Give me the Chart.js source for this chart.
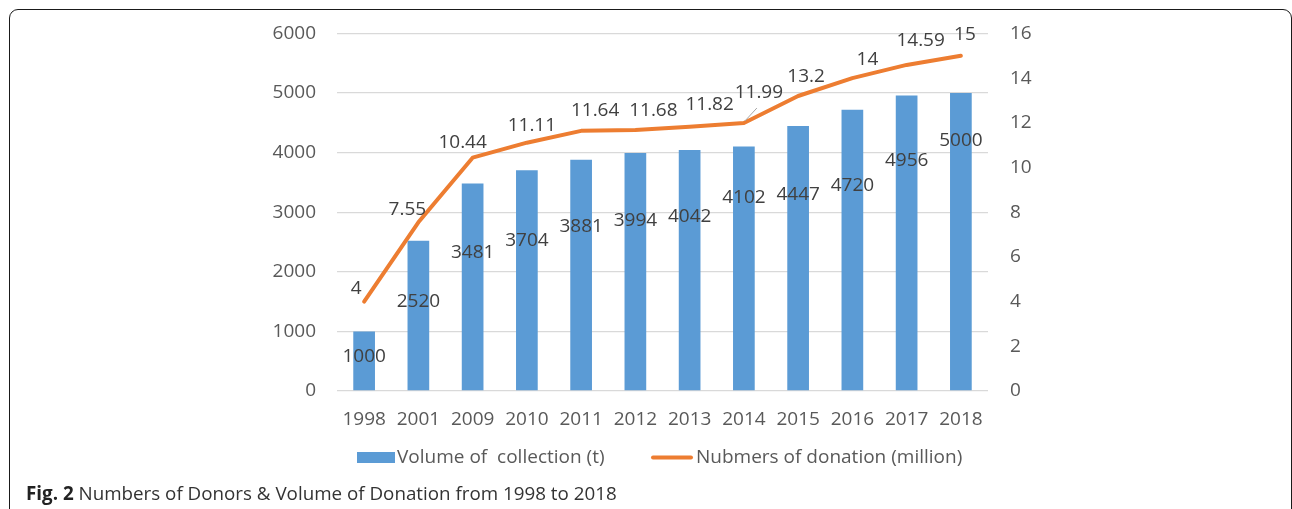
<!DOCTYPE html>
<html>
<head>
<meta charset="utf-8">
<script src="https://cdn.jsdelivr.net/npm/chart.js@4/dist/chart.umd.min.js"></script>
<style>
  html, body { margin: 0; padding: 0; background: #fff; }
  #wrap { position: relative; width: 1292px; height: 509px; overflow: hidden; }
  #frame { position: absolute; left: 9px; top: 9px; width: 1283px; height: 560px;
           border: 1.5px solid #1a1a1a; border-radius: 9px; box-sizing: border-box; }
  #cv { position: absolute; left: 0; top: 0; }
  #caption { position: absolute; left: 26px; top: 480px; font-family: "Open Sans", sans-serif;
             font-size: 18.8px; color: #333; white-space: nowrap; }
  #caption b { font-weight: 700; color: #222; }
</style>
</head>
<body>
<div id="wrap">
  <div id="frame"></div>
  <canvas id="cv" width="1292" height="509"></canvas>
  <div id="caption"><b>Fig. 2</b> Numbers of Donors &amp; Volume of Donation from 1998 to 2018</div>
</div>
<script>
const categories = ['1998','2001','2009','2010','2011','2012','2013','2014','2015','2016','2017','2018'];
const volumeCollection = [1000,2520,3481,3704,3881,3994,4042,4102,4447,4720,4956,5000];
const donationNumbers = [4,7.55,10.44,11.11,11.64,11.68,11.82,11.99,13.2,14,14.59,15];
const seriesNames = ['Volume of  collection (t)', 'Nubmers of donation (million)'];

// label placement (layout only)
const barLabelDy = [25,61,69,70,67,68,66,51,69,76,65,48];
const lineLabelDx = [-8,-11,-10,5,14,18,20,15,8,15,14,4];
const lineLabelDy = [-13,-13,-15,-17,-20,-19,-22,-30,-19,-19,-24,-21];

const FONT = '"Open Sans", sans-serif';
const BLUE = '#5B9BD5';
const ORANGE = '#ED7D31';

const labelPlugin = {
  id: 'labels',
  afterDatasetsDraw(chart) {
    const ctx = chart.ctx;
    ctx.save();
    ctx.font = '19px ' + FONT;
    ctx.fillStyle = '#404040';
    ctx.textAlign = 'center';
    ctx.textBaseline = 'middle';
    const barMeta = chart.getDatasetMeta(0);
    barMeta.data.forEach((el, i) => {
      ctx.fillText(String(chart.data.datasets[0].data[i]), el.x, el.y + barLabelDy[i]);
    });
    const lineMeta = chart.getDatasetMeta(1);
    lineMeta.data.forEach((el, i) => {
      const lx = el.x + lineLabelDx[i], ly = el.y + lineLabelDy[i];
      if (i === 7) {
        ctx.save();
        ctx.strokeStyle = '#A6A6A6';
        ctx.lineWidth = 1;
        ctx.beginPath();
        ctx.moveTo(el.x + 1, el.y - 2);
        ctx.lineTo(el.x + 13, el.y - 15);
        ctx.stroke();
        ctx.restore();
      }
      ctx.fillText(String(chart.data.datasets[1].data[i]), lx, ly);
    });
    ctx.restore();
  },
  afterDraw(chart) {
    const ctx = chart.ctx;
    ctx.save();
    ctx.font = '19px ' + FONT;
    ctx.textBaseline = 'middle';
    ctx.textAlign = 'left';
    const ly = 457.5;
    ctx.fillStyle = BLUE;
    ctx.fillRect(357, 452, 38, 11);
    ctx.fillStyle = '#595959';
    ctx.fillText(chart.data.datasets[0].label, 397, ly);
    ctx.strokeStyle = ORANGE;
    ctx.lineWidth = 4;
    ctx.lineCap = 'round';
    ctx.beginPath();
    ctx.moveTo(653, ly);
    ctx.lineTo(691, ly);
    ctx.stroke();
    ctx.fillText(chart.data.datasets[1].label, 696, ly);
    ctx.restore();
  }
};

new Chart(document.getElementById('cv'), {
  type: 'bar',
  data: {
    labels: categories,
    datasets: [
      {
        type: 'bar',
        label: seriesNames[0],
        data: volumeCollection,
        backgroundColor: BLUE,
        borderWidth: 0,
        barPercentage: 0.4,
        categoryPercentage: 1,
        yAxisID: 'y',
        order: 2
      },
      {
        type: 'line',
        label: seriesNames[1],
        data: donationNumbers,
        borderColor: ORANGE,
        backgroundColor: ORANGE,
        borderWidth: 4,
        borderCapStyle: 'round',
        borderJoinStyle: 'round',
        pointRadius: 0,
        tension: 0,
        yAxisID: 'y1',
        order: 1
      }
    ]
  },
  options: {
    responsive: false,
    animation: false,
    devicePixelRatio: 1,
    layout: { padding: { top: 33, left: 0, right: 0, bottom: 0 } },
    plugins: {
      legend: { display: false },
      tooltip: { enabled: false }
    },
    scales: {
      x: {
        offset: true,
        grid: { display: false, drawTicks: false },
        border: { display: false },
        ticks: { color: '#595959', font: { family: FONT, size: 19 }, padding: 17, maxRotation: 0, autoSkip: false },
        afterFit(scale) { scale.height = 118; }
      },
      y: {
        position: 'left',
        min: 0, max: 6000,
        ticks: { stepSize: 1000, color: '#595959', font: { family: FONT, size: 19 }, padding: 21,
                 callback: (v) => String(v) },
        grid: { color: '#D9D9D9', lineWidth: 1.3, drawTicks: false },
        border: { display: false },
        afterFit(scale) { scale.width = 337; }
      },
      y1: {
        position: 'right',
        min: 0, max: 16,
        ticks: { stepSize: 2, color: '#595959', font: { family: FONT, size: 19 }, padding: 22,
                 callback: (v) => String(v) },
        grid: { display: false, drawTicks: false },
        border: { display: false },
        afterFit(scale) { scale.width = 304; }
      }
    }
  },
  plugins: [labelPlugin]
});
</script>
</body>
</html>
